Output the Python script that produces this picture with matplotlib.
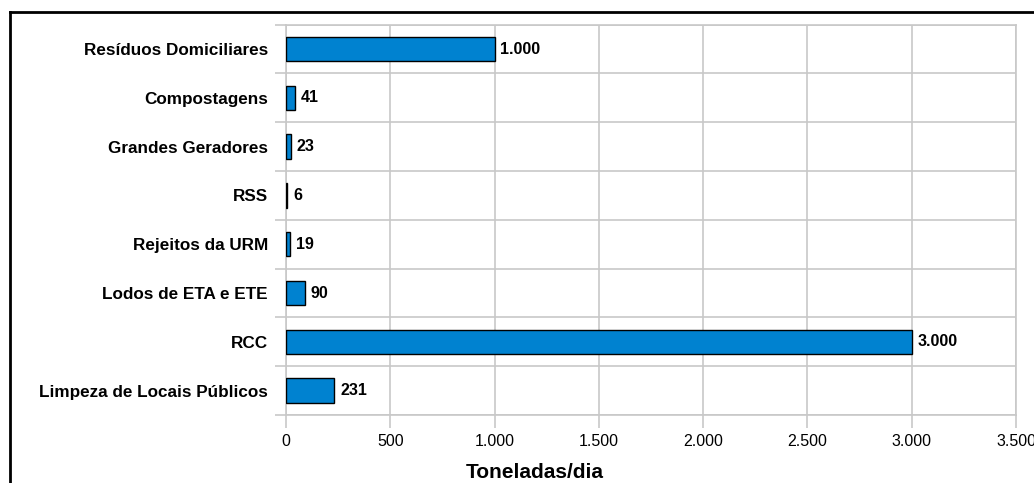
import numpy as np
import matplotlib.pyplot as plt
from matplotlib.lines import Line2D
from matplotlib.ticker import FixedLocator, FuncFormatter

plt.rcParams['font.family'] = ['Liberation Sans', 'DejaVu Sans']

# dados (toneladas/dia)
categorias = [
    'Resíduos Domiciliares',
    'Compostagens',
    'Grandes Geradores',
    'RSS',
    'Rejeitos da URM',
    'Lodos de ETA e ETE',
    'RCC',
    'Limpeza de Locais Públicos',
]
valores = [1000, 41, 23, 6, 19, 90, 3000, 231]
x_ticks = [0, 500, 1000, 1500, 2000, 2500, 3000, 3500]


def fmt_br(v):
    return f'{int(v):,}'.replace(',', '.')


fig = plt.figure(figsize=(10.34, 4.83), dpi=100)
ax = fig.add_axes([286 / 1034, 1 - 415 / 483, (1016 - 286) / 1034, (415 - 24.7) / 483])

n = len(categorias)
ypos = np.arange(n)
ax.barh(ypos, valores, height=0.5, color='#0082d0', edgecolor='black', linewidth=1.0, zorder=3)

for y, v in zip(ypos, valores):
    ax.text(v + 28, y, fmt_br(v), ha='left', va='center', fontsize=11.5, fontweight='bold', zorder=4)

ax.set_xlim(0, 3500)
ax.set_ylim(n - 0.5, -0.5)
ax.xaxis.set_major_locator(FixedLocator(x_ticks))
ax.xaxis.set_major_formatter(FuncFormatter(lambda v, p: fmt_br(v)))
ax.set_yticks(ypos)
ax.set_yticklabels(categorias, fontsize=12.3, fontweight='bold')
ax.yaxis.set_minor_locator(FixedLocator(np.arange(-0.5, n, 1.0)))

grid_c = '#c8c8c8'
ax.grid(True, axis='x', which='major', color=grid_c, linewidth=1.2, zorder=0)
ax.grid(True, axis='y', which='minor', color=grid_c, linewidth=1.2, zorder=0)
ax.tick_params(axis='y', which='major', length=0, pad=13)
ax.tick_params(axis='y', which='minor', length=8, color=grid_c, width=1.2)
ax.tick_params(axis='x', which='major', length=9, color=grid_c, width=1.2, labelsize=11.5, pad=5)
for s in ax.spines.values():
    s.set_color(grid_c)
    s.set_linewidth(1.2)

fig.text(535 / 1034, 1 - 472 / 483, 'Toneladas/dia', ha='center', va='center',
         fontsize=15, fontweight='bold')

# moldura preta (recortada)
fig.add_artist(Line2D([10 / 1034, 1.0], [1 - 12 / 483, 1 - 12 / 483], color='black', linewidth=2,
                      transform=fig.transFigure))
fig.add_artist(Line2D([10 / 1034, 10 / 1034], [0.0, 1 - 12 / 483], color='black', linewidth=2,
                      transform=fig.transFigure))

fig.savefig('out.png', dpi=100, facecolor='white')
